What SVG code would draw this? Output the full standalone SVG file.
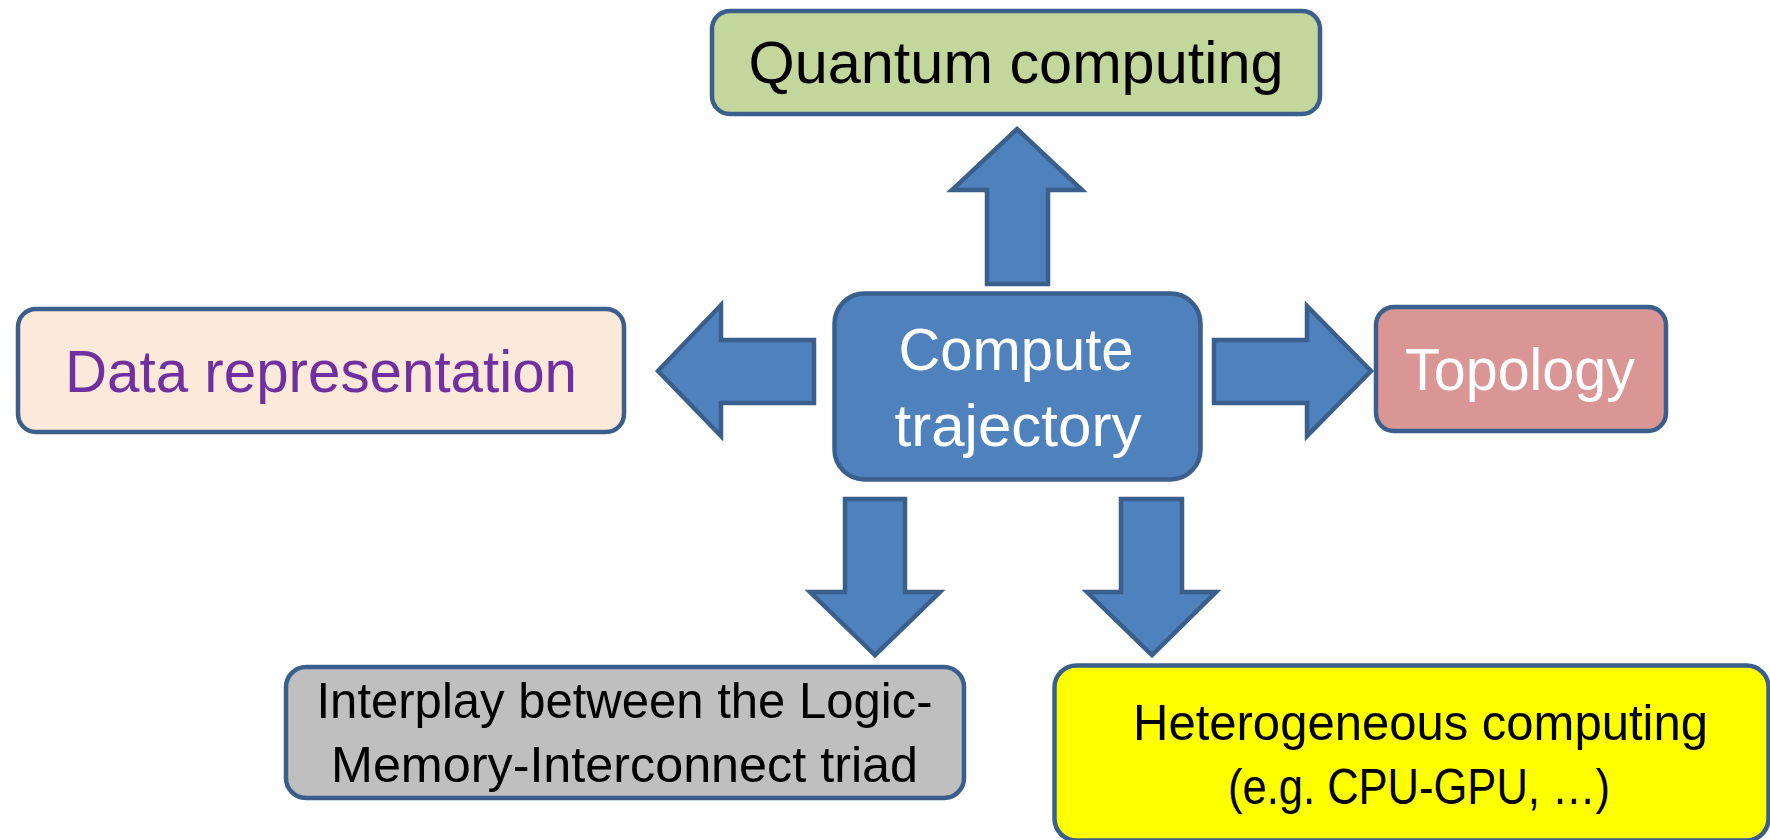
<svg xmlns="http://www.w3.org/2000/svg" width="1770" height="840" viewBox="0 0 1770 840">
<style>
.box{stroke:#3A5F8C;stroke-width:4.5}
.arr{fill:#4F81BD;stroke:#3A5F8C;stroke-width:4.5;stroke-linejoin:miter}
.t{font-family:"Liberation Sans",Arial,sans-serif;text-anchor:middle}
.big{font-size:59px}
.small{font-size:50px}
</style>
<rect width="1770" height="840" fill="#FFFFFF"/>
<g id="connectors">
<polygon class="arr" points="1017,129 1082,190 1048,190 1048,284 987,284 987,190 952,190"/>
<polygon class="arr" points="658,371 721,305 721,340 814,340 814,403 721,403 721,436"/>
<polygon class="arr" points="1214,340 1307,340 1307,306 1371,371 1307,436 1307,403 1214,403"/>
<polygon class="arr" points="845,499 905,499 905,592 940,592 875,655 810,592 845,592"/>
<polygon class="arr" points="1121,499 1182,499 1182,592 1216,592 1152,655 1087,592 1121,592"/>
</g>
<g id="quantum">
<rect class="box" x="712" y="11" width="608" height="103" rx="18" fill="#C3D69B"/>
<text class="t big" x="1016" y="83" fill="#000000" textLength="535" lengthAdjust="spacingAndGlyphs">Quantum computing</text>
</g>
<g id="compute">
<rect class="box" x="834.5" y="293.5" width="366" height="186" rx="30" fill="#4F81BD"/>
<text class="t big" x="1016" y="370" fill="#FFFFFF" textLength="235" lengthAdjust="spacingAndGlyphs">Compute</text>
<text class="t big" x="1018" y="446" fill="#FFFFFF" textLength="247" lengthAdjust="spacingAndGlyphs">trajectory</text>
</g>
<g id="data">
<rect class="box" x="18" y="309" width="606" height="123" rx="18" fill="#FDE9D9"/>
<text class="t big" x="321" y="392" fill="#7030A0" textLength="512" lengthAdjust="spacingAndGlyphs">Data representation</text>
</g>
<g id="topology">
<rect class="box" x="1376" y="307" width="290" height="124" rx="18" fill="#D99694"/>
<text class="t big" x="1520" y="390" fill="#FFFFFF" textLength="230" lengthAdjust="spacingAndGlyphs">Topology</text>
</g>
<g id="interplay">
<rect class="box" x="286" y="667" width="678" height="131" rx="20" fill="#BFBFBF"/>
<text class="t small" x="624.5" y="718" fill="#000000" textLength="616" lengthAdjust="spacingAndGlyphs">Interplay between the Logic-</text>
<text class="t small" x="624.5" y="782" fill="#000000" textLength="587" lengthAdjust="spacingAndGlyphs">Memory-Interconnect triad</text>
</g>
<g id="heterogeneous">
<rect class="box" x="1054.5" y="665.5" width="714" height="175" rx="22" fill="#FFFF00"/>
<text class="t small" x="1420.5" y="740" fill="#000000" textLength="575" lengthAdjust="spacingAndGlyphs">Heterogeneous computing</text>
<text class="t small" x="1419" y="804" fill="#000000" textLength="382" lengthAdjust="spacingAndGlyphs">(e.g. CPU-GPU, …)</text>
</g>
</svg>
